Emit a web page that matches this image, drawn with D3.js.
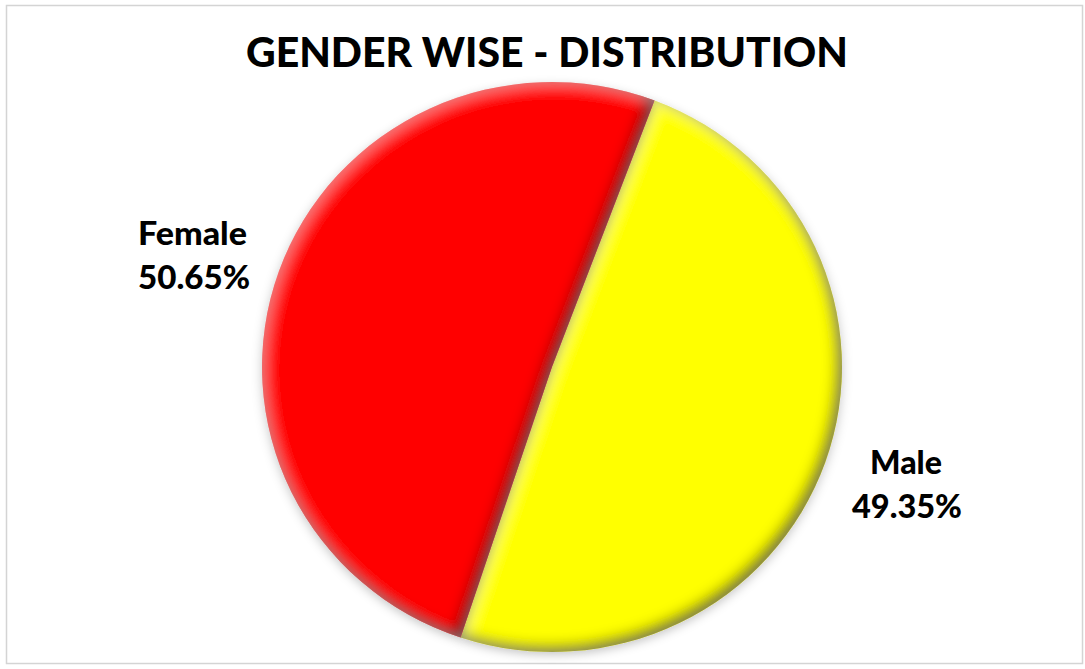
<!DOCTYPE html>
<html><head><meta charset="utf-8">
<script src="https://cdn.jsdelivr.net/npm/d3@7"></script>
<style>html,body{margin:0;padding:0;background:#fff;}svg{display:block;}</style>
</head><body>
<script>
const categories = ["Male", "Female"];
const values = [49.35, 50.65];
const labels = ["Male\n49.35%", "Female\n50.65%"];
const colors = ["#ffff00", "#ff0000"];
const title = "GENDER WISE - DISTRIBUTION";

const W = 1085, H = 669;
const svg = d3.select("body").append("svg").attr("width", W).attr("height", H);

svg.append("rect").attr("x", 6.5).attr("y", 5.5).attr("width", 1076).attr("height", 658)
  .attr("fill", "#fff").attr("stroke", "#d4d4d4").attr("stroke-width", 1.5);

const defs = svg.append("defs");
const f = defs.append("filter").attr("id", "bevel")
  .attr("x", "-20%").attr("y", "-20%").attr("width", "140%").attr("height", "140%");
f.append("feGaussianBlur").attr("in", "SourceAlpha").attr("stdDeviation", 5).attr("result", "ob");
f.append("feOffset").attr("in", "ob").attr("dx", 0).attr("dy", 3).attr("result", "obo");
f.append("feFlood").attr("flood-color", "#000").attr("flood-opacity", 0.22).attr("result", "obc");
f.append("feComposite").attr("in", "obc").attr("in2", "obo").attr("operator", "in").attr("result", "outerShadow");
f.append("feGaussianBlur").attr("in", "SourceAlpha").attr("stdDeviation", 7).attr("result", "ib");
f.append("feOffset").attr("in", "ib").attr("dx", -6).attr("dy", -6).attr("result", "ibo");
f.append("feComposite").attr("in", "SourceAlpha").attr("in2", "ibo").attr("operator", "out").attr("result", "ishape");
f.append("feFlood").attr("flood-color", "#000").attr("flood-opacity", 0.85).attr("result", "ic");
f.append("feComposite").attr("in", "ic").attr("in2", "ishape").attr("operator", "in").attr("result", "innerShadow");
f.append("feOffset").attr("in", "ib").attr("dx", 3).attr("dy", 3).attr("result", "hbo");
f.append("feComposite").attr("in", "SourceAlpha").attr("in2", "hbo").attr("operator", "out").attr("result", "hshape");
f.append("feFlood").attr("flood-color", "#fff").attr("flood-opacity", 0.2).attr("result", "hc");
f.append("feComposite").attr("in", "hc").attr("in2", "hshape").attr("operator", "in").attr("result", "highlight");
const m = f.append("feMerge");
m.append("feMergeNode").attr("in", "outerShadow");
m.append("feMergeNode").attr("in", "SourceGraphic");
m.append("feMergeNode").attr("in", "innerShadow");
m.append("feMergeNode").attr("in", "highlight");

svg.append("text").attr("x", 547).attr("y", 67).attr("text-anchor", "middle")
  .attr("font-family", "Lato, 'Open Sans', sans-serif").attr("font-weight", 900)
  .attr("font-size", 41).attr("fill", "#000")
  .attr("textLength", 602).attr("lengthAdjust", "spacingAndGlyphs")
  .text(title);

const cx = 552, cy = 367, r = 285;
const data = categories.map((c, i) => ({ c, v: values[i], color: colors[i], label: labels[i] }));
const startA = 20.7 * Math.PI / 180;
const pie = d3.pie().value(d => d.v).sort(null)
  .startAngle(startA).endAngle(startA + 2 * Math.PI);
const arc = d3.arc().innerRadius(0).outerRadius(r);
const g = svg.append("g").attr("transform", `translate(${cx},${cy}) scale(${290/285},1)`);
g.selectAll("path").data(pie(data)).join("path")
  .attr("d", arc).attr("fill", d => d.data.color).attr("filter", "url(#bevel)");

// [left x, baseline y, width] for each label line
const labelPos = {
  "Female": [[138, 245, 109], [138, 289, 112]],
  "Male": [[870, 474, 72], [852, 518, 110]]
};
data.forEach(d => {
  d.label.split("\n").forEach((line, i) => {
    const [x, y, w] = labelPos[d.c][i];
    svg.append("text").attr("x", x).attr("y", y)
      .attr("font-family", "Lato, 'Open Sans', sans-serif").attr("font-weight", 900)
      .attr("font-size", 32).attr("fill", "#000")
      .attr("textLength", w).attr("lengthAdjust", "spacingAndGlyphs")
      .text(line);
  });
});
</script>
</body></html>
